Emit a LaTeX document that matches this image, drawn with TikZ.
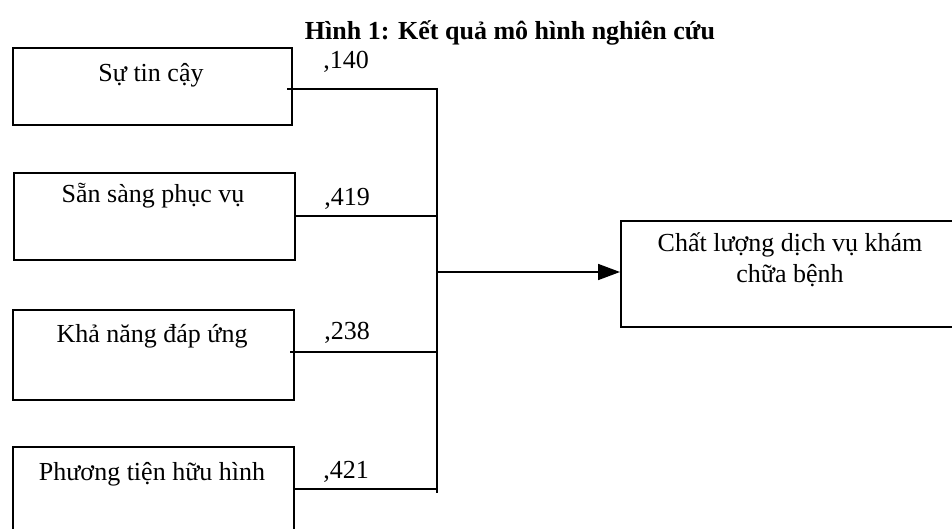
\documentclass[tikz,border=0pt]{standalone}
\usepackage{fontspec}
\setmainfont{Liberation Serif}
\usetikzlibrary{arrows.meta}
\begin{document}
\begin{tikzpicture}[x=0.5pt,y=-0.5pt,
  box/.style={draw,line width=0.9pt,rectangle,inner sep=0pt,anchor=north west},
  txt/.style={font=\fontsize{13}{15.5}\selectfont,inner sep=0pt,align=center},
  wt/.style={font=\fontsize{13}{15.5}\selectfont,inner sep=0pt},
  conn/.style={line width=0.9pt}]
\useasboundingbox (0,0) rectangle (952,529);
\clip (0,0) rectangle (952,529);
\node[txt,font=\bfseries\fontsize{13}{15.5}\selectfont] (title) at (510,33) {Hình 1: Kết quả mô hình nghiên cứu};
% boxes
\node[box,minimum width=139.5pt,minimum height=38.5pt] (b1) at (12,47) {};
\node[box,minimum width=140.5pt,minimum height=43.5pt] (b2) at (13,172) {};
\node[box,minimum width=140.5pt,minimum height=45pt] (b3) at (12,309) {};
\node[box,minimum width=140.5pt,minimum height=60pt] (b4) at (12,446) {};
\node[box,minimum width=190pt,minimum height=53pt] (out) at (620,220) {};
% texts
\node[txt] (t1) at (151,75) {Sự tin cậy};
\node[txt] (t2) at (153,196) {Sẵn sàng phục vụ};
\node[txt] (t3) at (152,336) {Khả năng đáp ứng};
\node[txt] (t4) at (152,474) {Phương tiện hữu hình};
\node[txt] (t5) at (790,260) {Chất lượng dịch vụ khám\\chữa bệnh};
% weights
\node[wt] (w1) at (346,62) {,140};
\node[wt] (w2) at (347,199) {,419};
\node[wt] (w3) at (347,333) {,238};
\node[wt] (w4) at (346,472) {,421};
% bus
\coordinate (j1) at (437,89);
\coordinate (j2) at (437,216);
\coordinate (j3) at (437,352);
\coordinate (j4) at (437,489);
\coordinate (top) at (437,88);
\coordinate (bot) at (437,493);
\coordinate (ja) at (437,272);
\draw[conn] (top) -- (bot);
\draw[conn] (287,89) -- (j1);
\draw[conn] (b2.east |- j2) -- (j2);
\draw[conn] (290,352) -- (j3);
\draw[conn] (b4.east |- j4) -- (j4);
\draw[conn,-{Triangle[length=11pt,width=8pt]}] (ja) -- (out.west |- ja);
\end{tikzpicture}
\end{document}
